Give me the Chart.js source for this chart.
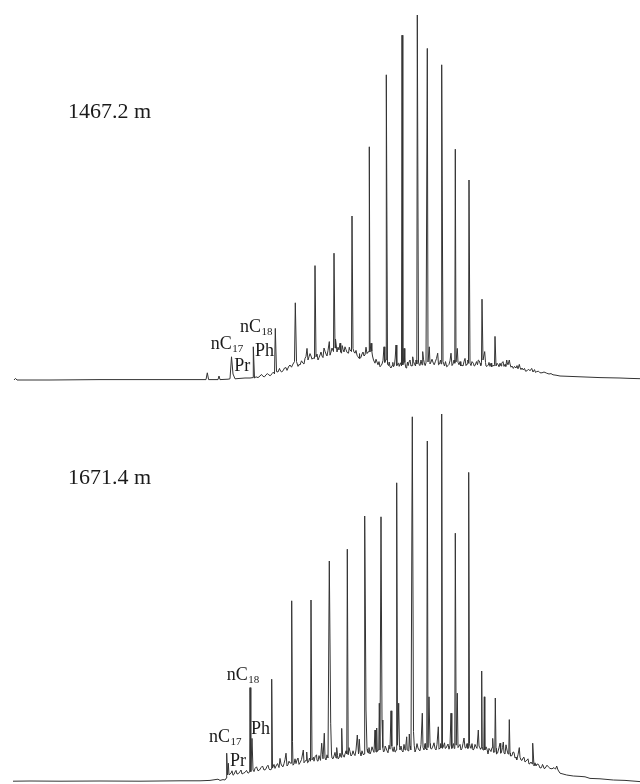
<!DOCTYPE html>
<html>
<head>
<meta charset="utf-8">
<script src="https://cdn.jsdelivr.net/npm/chart.js@4/dist/chart.umd.min.js"></script>
<style>
  html, body { margin: 0; padding: 0; background: #ffffff; }
  #wrap { width: 640px; height: 784px; position: relative; }
  canvas { display: block; }
</style>
</head>
<body>
<div id="wrap">
  <canvas id="upper" width="640" height="392"></canvas>
  <canvas id="lower" width="640" height="392"></canvas>
</div>
<script>
// Retention time (min) and relative abundance of the two whole-oil chromatograms.

// 1467.2 m: baseline, unresolved hump and minor components
const upperTrace = [
  [1.4,0],[1.55,0.4],[1.7,0],[5,0],[10,0.1],[15,0.1],[20,0.1],[20.6,0.1],[20.73,1.8],[20.86,0.1],
  [21.8,0.1],[21.9,1.0],[22.0,0.1],[22.8,0.2],[23.0,0.3],
  [23.3,1.5],[23.5,0.3],[24.0,0.4],[24.5,0.5],[25.0,0.5],[25.3,0.6],
  [25.45,0.5],[25.6,0.8],[25.8,0.6],[26.0,1.0],[26.3,0.9],[26.6,1.3],[26.9,1.2],[27.2,1.6],[27.45,1.5],
  [27.65,2.1],[27.8,2.0],[28.0,2.5],[28.3,2.3],[28.6,3.1],[28.8,3.0],[29.0,3.75],[29.45,4.6],
  [29.65,4.6],[29.8,3.4],[30.0,3.75],[30.3,4.2],[30.5,5.4],[30.7,7.9],[30.9,5.8],[31.1,6.0],[31.3,5.5],[31.45,5.4],
  [31.6,5.8],[31.8,5.0],[32.0,6.25],[32.2,6.0],[32.4,8.0],[32.6,6.5],[32.93,9.6],[33.1,7.0],[33.35,7.1],
  [33.5,8.0],[33.55,10.25],[33.7,7.0],[33.9,7.5],[34.0,9.2],[34.15,6.7],[34.3,7.7],[34.5,8.3],[34.7,6.9],[34.85,6.7],[35.0,7.5],[35.15,7.1],
  [35.3,7.9],[35.5,6.7],[35.7,6.2],[35.9,5.4],[36.0,5.4],[36.2,6.5],[36.4,6.0],[36.5,6.25],[36.6,8.2],[36.8,7.0],[36.9,7.1],
  [37.0,7.0],[37.1,9.2],[37.25,6.0],[37.5,4.2],[37.7,4.5],[38.0,3.3],[38.2,4.0],[38.4,8.3],[38.55,5.0],[38.6,5.0],
  [38.75,4.0],[39.0,3.3],[39.2,3.6],[39.35,3.3],[39.6,8.75],[39.75,4.0],[39.85,4.2],[40.15,3.5],
  [40.28,3.8],[40.4,7.9],[40.55,3.5],[40.67,3.3],[40.9,4.5],[41.1,3.5],[41.27,5.8],[41.45,4.0],[41.68,4.0],
  [41.85,4.5],[42.0,3.6],[42.27,7.1],[42.45,4.0],[42.6,4.3],[42.68,4.3],
  [42.8,4.5],[42.93,8.3],[43.1,4.5],[43.33,4.2],[43.55,4.7],[43.77,6.7],[43.95,4.0],[44.12,4.0],
  [44.3,4.6],[44.67,3.3],[44.9,3.9],[45.1,6.7],[45.3,4.0],[45.48,4.2],
  [45.6,4.5],[45.73,7.9],[45.9,3.8],[46.17,3.75],[46.3,3.5],[46.5,5.4],[46.7,4.0],[46.85,4.2],
  [47.0,4.2],[47.33,4.2],[47.5,3.6],[47.83,5.0],[48.0,4.2],[48.15,4.3],
  [48.3,5.0],[48.47,7.1],[48.6,3.5],[48.83,3.75],[49.17,3.3],[49.4,3.6],[49.45,3.8],
  [49.6,3.5],[49.83,3.75],[50.17,4.2],[50.4,3.4],[50.67,5.0],[50.8,3.8],[50.93,5.0],[51.1,3.2],[51.33,2.9],
  [51.6,3.0],[51.93,3.9],[52.1,2.6],[52.33,2.5],[52.7,2.3],[53.17,2.9],[53.3,2.0],[53.67,2.1],[54.2,1.8],
  [54.67,1.7],[55.3,1.3],[56.0,1.0],[57.0,0.9],[58.0,0.8],[59.0,0.7],[60.0,0.6],[61,0.55],[62.0,0.5],[63,0.4],[64.0,0.33]
];

// 1467.2 m: fine structure riding on the hump
const upperFine = [
  [26.15,1.4],[26.45,0.8],[26.75,1.6],[27.05,1.1],[27.35,2.0],[27.95,2.9],[28.15,2.0],[28.45,3.0],[28.7,2.4],
  [28.9,3.5],[29.15,3.2],[29.3,4.0],[29.9,3.9],[30.15,4.8],[30.4,4.0],[30.6,5.9],[30.8,5.0],[31.0,6.6],[31.2,5.2],
  [31.7,6.5],[31.9,5.6],[32.1,7.0],[32.3,5.6],[32.5,7.2],[32.7,6.0],[32.8,7.4],[33.0,6.2],[33.2,8.0],[33.8,8.2],
  [34.07,7.0],[34.22,8.6],[34.4,7.0],[34.6,7.6],[34.93,8.2],[35.4,7.0],[35.6,7.4],[35.8,5.8],[35.95,6.6],[36.1,5.7],
  [36.3,7.0],[36.7,6.6],[37.18,7.2],[37.35,5.0],[37.6,5.2],[37.8,3.8],[37.9,4.6],[38.1,3.6],[38.3,4.9],[38.48,4.4],
  [38.85,3.6],[38.92,4.5],[39.1,3.0],[39.28,4.4],[39.45,3.8],[39.52,5.5],[39.68,3.6],[39.92,3.4],[40.05,4.3],
  [40.35,4.6],[40.48,4.4],[40.6,3.0],[40.75,4.5],[40.82,3.6],[41.0,5.0],[41.2,3.6],[41.35,4.6],[41.55,3.5],[41.6,5.0],
  [41.92,3.8],[42.1,5.0],[42.2,3.8],[42.35,5.2],[42.52,3.6],[43.0,4.0],[43.2,5.2],[43.42,3.8],[43.65,5.4],[43.85,3.8],
  [44.05,5.0],[44.45,3.5],[44.55,4.6],[44.8,3.6],[45.0,4.8],[45.2,3.6],[45.4,5.0],[45.8,4.4],[46.0,4.6],[46.08,3.5],
  [46.4,4.6],[46.6,3.6],[46.78,5.0],[47.1,3.6],[47.2,4.6],[47.42,3.5],[47.65,4.6],[47.75,3.8],[47.92,4.8],[48.08,3.6],
  [48.55,4.4],[48.7,3.4],[48.9,4.4],[49.0,3.4],[49.1,4.2],[49.25,3.6],[49.7,4.2],[49.9,3.3],[50.0,4.2],[50.1,3.5],
  [50.3,4.6],[50.5,3.9],[50.58,3.4],[50.73,4.3],[51.0,4.0],[51.2,3.5],[51.45,3.4],[51.7,3.6],[51.8,2.8],[52.0,3.2],
  [52.2,3.0],[52.45,2.9],[52.55,2.2],[52.85,2.7],[53.0,2.3],[53.45,2.6],[53.55,1.9],[53.85,2.2],[54.0,1.8],[54.4,2.0],
  [54.9,1.5],[55.1,1.6],[55.6,1.2]
];

// 1467.2 m: resolved n-alkane and isoprenoid apexes
const upperPeaks = [
  [23.15,5.8],[25.33,8.3],[27.53,12.9],[29.53,19.3],[31.5,28.6],[33.4,31.7],[35.2,41.0],[36.93,58.3],
  [38.63,76.3],[40.2,86.2],[41.73,91.25],[42.73,82.9],[44.17,78.8],[45.53,57.7],[46.9,50.0],[48.2,20.2],[49.5,10.9]
];

// 1671.4 m: baseline, unresolved hump and minor components
const lowerTrace = [
  [1.3,0.2],[3,0.25],[6,0.2],[10,0.25],[14,0.2],[18,0.3],[20,0.3],[21.0,0.4],[21.8,0.7],[22.0,0.4],[22.3,0.6],[22.5,0.5],[22.64,1.0],
  [22.75,1.75],[22.83,4.7],[22.9,1.8],[23.1,2.2],[23.3,1.7],[23.5,2.5],[23.7,2.0],[24.0,2.6],[24.2,2.0],[24.5,2.4],[24.8,2.2],[24.97,2.5],
  [25.08,2.6],[25.2,10.9],[25.3,3.0],[25.5,3.4],[25.8,2.8],[26.1,3.6],[26.4,3.0],[26.7,3.9],[26.9,3.3],[27.12,3.2],
  [27.25,3.5],[27.6,4.0],[28.0,5.9],[28.2,4.0],[28.4,4.6],[28.6,7.2],[28.8,4.3],[29.0,4.75],[29.12,4.7],
  [29.25,10.1],[29.4,4.5],[29.7,5.5],[30.0,4.8],[30.33,8.0],[30.5,5.2],[30.67,7.5],[30.85,5.0],[31.05,5.2],
  [31.2,5.5],[31.5,6.3],[31.8,5.2],[32.17,9.7],[32.3,5.8],[32.43,12.2],[32.6,5.5],[32.8,6.0],[32.88,6.0],
  [33.07,14.7],[33.2,6.0],[33.4,6.5],[33.67,8.6],[33.9,6.0],[34.17,13.4],[34.35,6.5],[34.5,7.0],[34.68,7.0],
  [34.9,8.6],[35.1,6.5],[35.4,7.0],[35.73,11.75],[35.85,7.0],[35.93,10.7],[36.1,6.5],[36.3,7.0],[36.42,7.0],
  [36.6,18.0],[36.75,7.5],[37.0,7.0],[37.3,8.0],[37.5,13.0],[37.6,7.5],[37.67,13.5],[37.8,8.0],[37.93,19.7],[38.0,8.0],[38.05,8.0],
  [38.2,15.5],[38.35,7.5],[38.6,8.5],[38.8,7.3],[39.1,17.8],[39.25,8.0],[39.5,7.5],[39.62,8.0],
  [39.87,19.7],[40.0,8.0],[40.3,7.5],[40.67,11.3],[40.8,7.8],[40.93,12.0],[41.1,8.0],[41.18,8.0],
  [41.35,12.6],[41.5,7.5],[41.8,8.5],[42.0,7.8],[42.23,17.2],[42.4,8.0],[42.6,8.3],[42.68,8.0],
  [42.9,21.3],[43.05,8.5],[43.3,9.0],[43.6,8.0],[43.83,13.8],[44.0,8.5],[44.12,8.6],
  [44.35,9.0],[44.6,8.5],[44.8,9.5],[45.1,17.2],[45.25,8.8],[45.48,8.7],
  [45.73,22.2],[45.9,9.0],[46.1,8.0],[46.4,11.0],[46.6,8.5],[46.82,8.5],
  [47.0,9.0],[47.3,8.0],[47.6,8.8],[47.83,13.0],[48.0,8.5],[48.12,8.5],
  [48.3,8.0],[48.38,8.2],[48.48,8.0],[48.6,8.8],[48.8,7.0],[49.0,8.0],[49.27,10.9],[49.4,7.5],[49.48,8.0],
  [49.65,7.0],[50.0,9.7],[50.15,7.5],[50.33,10.0],[50.5,7.0],[50.6,9.3],[50.8,7.0],[50.88,7.5],
  [51.05,6.5],[51.3,7.5],[51.5,6.0],[51.67,5.5],[51.93,8.6],[52.1,5.5],[52.3,6.0],[52.5,5.0],[52.7,5.5],[52.9,4.5],[53.1,5.0],[53.22,4.5],
  [53.4,4.0],[53.7,4.5],[54.0,3.5],[54.33,4.0],[54.5,3.4],[54.83,3.8],[55.2,3.3],[55.67,4.0],[55.8,3.0],[56.0,2.2],
  [56.67,1.75],[57.33,1.5],[58.0,1.4],[58.5,1.3],[59.0,0.9],[60.0,0.8],[61.33,0.5],[62.5,0.4],[64.0,0.1]
];

// 1671.4 m: fine structure riding on the hump
const lowerFine = [
  [23.2,2.8],[23.4,1.9],[23.6,2.9],[23.85,2.1],[24.1,3.0],[24.35,2.2],[24.65,2.9],[25.4,2.6],[25.65,3.8],[25.95,3.0],
  [26.25,4.0],[26.55,3.1],[26.8,4.2],[27.0,3.0],[27.4,4.4],[27.5,3.4],[27.75,4.6],[27.9,3.6],[28.1,4.5],[28.3,3.8],
  [28.5,5.6],[28.7,4.0],[28.9,5.2],[29.3,4.2],[29.5,5.8],[29.6,4.6],[29.8,6.0],[29.9,4.4],[30.15,5.6],[30.4,4.8],
  [30.6,5.4],[30.75,4.8],[30.95,6.0],[31.35,6.2],[31.4,5.2],[31.65,6.8],[31.7,5.4],[31.9,6.6],[32.05,5.4],[32.25,6.8],
  [32.5,6.0],[32.7,6.8],[33.15,7.0],[33.3,5.8],[33.5,7.4],[33.6,6.0],[33.75,6.6],[33.8,5.8],[34.0,7.2],[34.1,6.2],
  [34.25,7.0],[34.42,6.2],[34.6,7.8],[34.82,6.8],[35.0,7.6],[35.2,6.8],[35.3,7.8],[35.5,6.6],[35.6,8.0],[36.0,7.6],
  [36.2,7.8],[36.35,6.8],[36.7,8.2],[36.85,7.2],[36.9,8.6],[37.1,7.6],[37.2,8.8],[37.4,7.4],[37.55,8.6],[37.72,7.6],
  [37.88,9.0],[38.28,8.6],[38.45,7.8],[38.52,9.0],[38.7,7.8],[38.9,9.2],[39.0,8.2],[39.18,9.0],[39.32,7.6],[39.42,8.8],
  [39.55,7.6],[39.75,9.2],[39.95,8.6],[40.1,9.0],[40.2,7.8],[40.4,9.4],[40.5,8.0],[40.58,9.0],[40.72,8.2],[40.88,8.0],
  [41.0,9.0],[41.05,8.2],[41.42,9.2],[41.6,8.2],[41.7,9.6],[41.9,8.0],[42.1,9.4],[42.3,8.6],[42.5,9.6],[42.55,8.4],
  [42.8,8.6],[43.0,9.6],[43.15,8.2],[43.4,9.8],[43.5,8.4],[43.7,9.4],[43.9,8.2],[44.05,9.6],[44.25,8.4],[44.45,9.8],
  [44.52,8.4],[44.7,9.0],[44.9,8.2],[45.0,9.2],[45.18,8.4],[45.35,9.6],[45.42,8.4],[45.62,9.2],[45.8,8.6],[46.0,9.4],
  [46.2,8.4],[46.3,9.6],[46.5,8.6],[46.7,9.6],[46.78,8.4],[46.95,9.6],[47.1,8.4],[47.2,9.6],[47.4,8.2],[47.5,9.4],
  [47.7,8.4],[47.9,9.0],[48.05,8.2],[48.22,8.8],[48.7,8.2],[48.9,8.4],[49.1,7.6],[49.2,8.6],[49.35,7.4],[49.6,8.4],
  [49.75,7.2],[49.9,8.6],[50.07,7.2],[50.25,8.6],[50.4,7.2],[50.7,8.0],[51.0,7.2],[51.2,6.6],[51.4,7.4],[51.6,6.2],
  [51.8,6.8],[52.0,6.2],[52.2,5.4],[52.4,6.2],[52.6,5.2],[52.8,5.8],[53.0,4.6],[53.5,4.8],[53.6,4.0],[53.85,4.4],
  [54.15,3.6],[54.25,4.4],[54.4,3.4],[54.7,4.2],[55.0,3.4],[55.4,3.6],[55.55,3.2]
];

// 1671.4 m: resolved n-alkane and isoprenoid apexes
const lowerPeaks = [
  [22.67,7.2],[25.0,23.6],[27.17,25.7],[29.17,45.3],[31.1,45.5],[32.93,55.25],[34.73,58.2],[36.47,66.5],
  [38.1,66.3],[39.67,74.8],[41.23,91.3],[42.73,85.25],[44.17,92.0],[45.53,62.2],[46.87,77.4],[48.17,27.75],
  [48.43,21.3],[49.53,21.0],[50.93,15.6],[53.27,9.7]
];

// Sample depths and compound names
const depths = ['1467.2 m', '1671.4 m'];
const compounds = [
  { base: 'nC', sub: '17' },
  { base: 'Pr', sub: '' },
  { base: 'nC', sub: '18' },
  { base: 'Ph', sub: '' }
];

// Where each annotation sits, in (time, abundance) units of its panel
const annotationLayout = {
  upper: { depth: [6.8, 65.5], marks: [[21.07, 7.7], [23.43, 2.25], [24.0, 12.1], [25.5, 6.1]] },
  lower: { depth: [6.8, 74.6], marks: [[20.9, 10.1], [23.0, 4.0], [22.67, 25.5], [25.1, 11.9]] }
};

function mergeTrace(...parts) {
  return [].concat(...parts)
    .sort((a, b) => a[0] - b[0])
    .map(p => ({ x: p[0], y: p[1] }));
}

const annotate = {
  id: 'annotate',
  afterDraw(chart, args, opts) {
    const ctx = chart.ctx;
    const xs = chart.scales.x, ys = chart.scales.y;
    const serif = '"Liberation Serif", "Times New Roman", serif';
    ctx.save();
    ctx.fillStyle = '#1a1a1a';
    ctx.textBaseline = 'alphabetic';
    ctx.textAlign = 'left';
    // depth caption
    ctx.font = '22px ' + serif;
    ctx.fillText(opts.depth, xs.getPixelForValue(opts.layout.depth[0]), ys.getPixelForValue(opts.layout.depth[1]));
    // compound labels with subscripts
    compounds.forEach((c, i) => {
      const px = xs.getPixelForValue(opts.layout.marks[i][0]);
      const py = ys.getPixelForValue(opts.layout.marks[i][1]);
      ctx.font = '18px ' + serif;
      ctx.fillText(c.base, px, py);
      if (c.sub) {
        const w = ctx.measureText(c.base).width;
        ctx.font = '11px ' + serif;
        ctx.fillText(c.sub, px + w + 0.5, py + 3);
      }
    });
    ctx.restore();
  }
};

function makePanel(id, points, yMin, yMax, depth, layout) {
  return new Chart(document.getElementById(id), {
    type: 'line',
    data: {
      datasets: [{
        data: points,
        borderColor: '#333333',
        borderWidth: 1,
        pointRadius: 0,
        tension: 0,
        fill: false
      }]
    },
    options: {
      responsive: false,
      animation: false,
      devicePixelRatio: 1,
      layout: { padding: 0 },
      scales: {
        x: { type: 'linear', min: 0, max: 64, display: false },
        y: { type: 'linear', min: yMin, max: yMax, display: false }
      },
      plugins: {
        legend: { display: false },
        tooltip: { enabled: false },
        annotate: { depth: depth, layout: layout }
      }
    },
    plugins: [annotate]
  });
}

makePanel('upper', mergeTrace(upperTrace, upperFine, upperPeaks), -3, 95, depths[0], annotationLayout.upper);
makePanel('lower', mergeTrace(lowerTrace, lowerFine, lowerPeaks), -0.5, 97.5, depths[1], annotationLayout.lower);
</script>
</body>
</html>
